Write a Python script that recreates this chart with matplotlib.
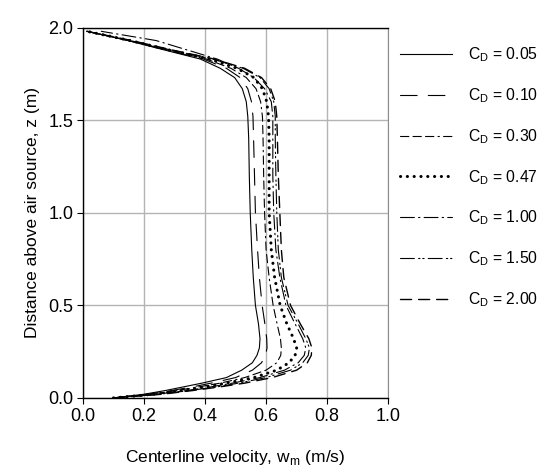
import matplotlib
matplotlib.use("Agg")
import matplotlib.pyplot as plt

plt.rcParams['font.family'] = ['Liberation Sans', 'DejaVu Sans']
plt.rcParams['lines.scale_dashes'] = False

# heights (m) at which the centerline velocity was read
z = [0.00, 0.02, 0.04, 0.06, 0.08, 0.11, 0.15, 0.19, 0.23, 0.27, 0.32, 0.40,
     0.50, 0.65, 0.80, 1.00, 1.20, 1.40, 1.52, 1.60, 1.67, 1.73, 1.78, 1.83,
     1.88, 1.93, 1.98]

cd_labels = ['0.05', '0.10', '0.30', '0.47', '1.00', '1.50', '2.00']

w_005 = [0.10, 0.20, 0.27, 0.33, 0.39, 0.47, 0.52, 0.555, 0.57, 0.578, 0.58, 0.575,
         0.565, 0.558, 0.553, 0.548, 0.545, 0.543, 0.540, 0.535, 0.522, 0.497, 0.45,
         0.385, 0.265, 0.147, 0.013]
w_010 = [0.10, 0.21, 0.29, 0.36, 0.42, 0.50, 0.555, 0.585, 0.598, 0.603, 0.602, 0.596,
         0.587, 0.578, 0.572, 0.565, 0.562, 0.559, 0.557, 0.552, 0.54, 0.515, 0.47,
         0.395, 0.27, 0.15, 0.013]
w_030 = [0.10, 0.22, 0.31, 0.38, 0.45, 0.53, 0.60, 0.635, 0.648, 0.65, 0.647, 0.636,
         0.623, 0.61, 0.60, 0.595, 0.592, 0.59, 0.588, 0.582, 0.567, 0.535, 0.485,
         0.405, 0.275, 0.15, 0.013]
w_047 = [0.10, 0.23, 0.32, 0.40, 0.47, 0.56, 0.635, 0.675, 0.695, 0.70, 0.69, 0.668,
         0.646, 0.628, 0.617, 0.61, 0.61, 0.61, 0.608, 0.602, 0.588, 0.56, 0.505,
         0.415, 0.28, 0.155, 0.013]
w_100 = [0.10, 0.24, 0.34, 0.42, 0.49, 0.58, 0.66, 0.705, 0.725, 0.73, 0.72, 0.695,
         0.665, 0.645, 0.632, 0.625, 0.622, 0.622, 0.622, 0.617, 0.595, 0.56, 0.51,
         0.44, 0.34, 0.24, 0.06]
w_150 = [0.10, 0.25, 0.35, 0.44, 0.51, 0.60, 0.68, 0.72, 0.738, 0.742, 0.73, 0.705,
         0.672, 0.65, 0.64, 0.635, 0.632, 0.63, 0.63, 0.625, 0.61, 0.58, 0.525,
         0.425, 0.285, 0.155, 0.013]
w_200 = [0.10, 0.26, 0.36, 0.45, 0.53, 0.62, 0.70, 0.735, 0.748, 0.75, 0.74, 0.712,
         0.68, 0.658, 0.65, 0.645, 0.64, 0.637, 0.635, 0.63, 0.615, 0.585, 0.53,
         0.43, 0.29, 0.16, 0.013]

series = [w_005, w_010, w_030, w_047, w_100, w_150, w_200]
styles = ['-', (0, (12, 8)), (0, (6, 3, 6, 3, 6, 3, 1, 3)), (0, (0.1, 4.8)),
          (0, (10, 3, 1, 3)), (0, (10, 3, 1, 2, 1, 3)), (0, (8, 5))]
widths = [0.8, 0.8, 0.8, 2.2, 0.8, 0.8, 1.0]

fig = plt.figure(figsize=(5.53, 4.76), dpi=100)
ax = fig.add_axes([0.150, 0.164, 0.552, 0.778])

for w, ls, lw, lab in zip(series, styles, widths, cd_labels):
    ax.plot(w, z, color='black', linestyle=ls, linewidth=lw,
            dash_capstyle='round', label=r'C$_\mathregular{D}$ = ' + lab)

ax.set_xlim(0, 1.0)
ax.set_ylim(0, 2.0)
ax.set_xticks([0.0, 0.2, 0.4, 0.6, 0.8, 1.0])
ax.set_yticks([0.0, 0.5, 1.0, 1.5, 2.0])
ax.set_xticklabels(['0.0', '0.2', '0.4', '0.6', '0.8', '1.0'])
ax.set_yticklabels(['0.0', '0.5', '1.0', '1.5', '2.0'])
ax.grid(True, color='#b4b4b4', linewidth=1.0)
ax.tick_params(direction='out', length=4, width=0.8, labelsize=13, pad=3)
for s in ['left', 'bottom', 'top']:
    ax.spines[s].set_color('black')
    ax.spines[s].set_linewidth(1.0)
ax.spines['right'].set_color('#8c8c8c')

ax.set_xlabel(r'Centerline velocity, w$_\mathregular{m}$ (m/s)', fontsize=12.5, labelpad=17)
ax.set_ylabel('Distance above air source, z (m)', fontsize=12.5, labelpad=6)

ax.legend(loc='upper left', bbox_to_anchor=(0.993, 0.99), frameon=False,
          fontsize=11.3, handlelength=3.3, handletextpad=1.0, labelspacing=1.41)

fig.savefig('out.png', dpi=100)
